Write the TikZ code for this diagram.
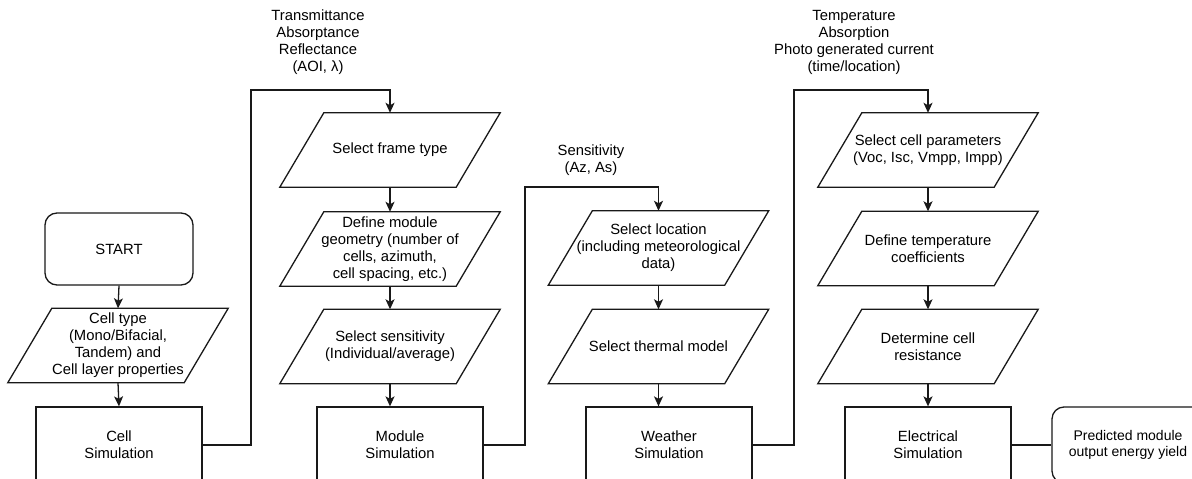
\documentclass[tikz,border=0pt]{standalone}
\usepackage{fontspec}
\setmainfont{Liberation Sans}
\usetikzlibrary{arrows.meta}
\begin{document}
\begin{tikzpicture}[x=1pt,y=-1pt,
  every node/.style={font=\fontsize{14.8}{17}\selectfont, align=center, inner sep=0pt},
  line/.style={line width=1.3pt, draw=black!90},
  arr/.style={line, -{Stealth[length=10pt,width=9pt,inset=2.5pt]}},
  para/.style={minimum width=176pt, minimum height=74pt},
  simbox/.style={draw=black!90, line width=1.3pt, minimum width=166pt, minimum height=76pt},
  term/.style={draw=black!90, line width=1.3pt, rounded corners=12pt}
]
\useasboundingbox (0,0) rectangle (1192,479);
\clip (0,0) rectangle (1192,479);

% column 1
\node[term, minimum width=148pt, minimum height=72pt] (start) at (119,249) {START};
\node[para] (p11) at (118,345.5) {Cell type\\(Mono/Bifacial,\\Tandem) and\\Cell layer properties};
\node[simbox] (cell) at (119,445) {Cell\\Simulation};

% column 2
\node[para] (p21) at (390,150) {Select frame type};
\node[para] (p22) at (390,249) {Define module\\geometry (number of\\cells, azimuth,\\cell spacing, etc.)};
\node[para] (p23) at (390,346.5) {Select sensitivity\\(Individual/average)};
\node[simbox] (mod) at (400,445) {Module\\Simulation};

% column 3
\node[para] (p31) at (658.5,248) {Select location\\(including meteorological\\data)};
\node[para] (p32) at (658.5,346.5) {Select thermal model};
\node[simbox] (wea) at (669,445) {Weather\\Simulation};

% column 4
\node[para] (p41) at (928,150) {Select cell parameters\\(Voc, Isc, Vmpp, Impp)};
\node[para] (p42) at (928,248.5) {Define temperature\\coefficients};
\node[para] (p43) at (928,346.5) {Determine cell\\resistance};
\node[simbox] (ele) at (928,445) {Electrical\\Simulation};
\node[term, minimum width=152pt, minimum height=76pt, font=\fontsize{14}{16.5}\selectfont] (pred) at (1128,445) {Predicted module\\output energy yield};

% labels
\node (lab1) at (318,42) {Transmittance\\Absorptance\\Reflectance\\(AOI, λ)};
\node (lab2) at (591,160) {Sensitivity\\(Az, As)};
\node (lab3) at (854,42) {Temperature\\Absorption\\Photo generated current\\(time/location)};

% parallelogram outlines
\foreach \n in {p11,p21,p22,p23,p31,p32,p41,p42,p43}{
  \draw[line] ([xshift=22pt]\n.north west) -- ([xshift=22pt]\n.north east)
    -- ([xshift=-22pt]\n.south east) -- ([xshift=-22pt]\n.south west) -- cycle;
}

% vertical arrows
\draw[arr] (start.south) -- (p11.north);
\draw[arr] (p11.south) -- (cell.north);
\draw[arr] (p21.south) -- (p22.north);
\draw[arr] (p22.south) -- (p23.north);
\draw[arr] (p23.south) -- (p23.south |- mod.north);
\draw[arr] (p31.south) -- (p32.north);
\draw[arr] (p32.south) -- (p32.south |- wea.north);
\draw[arr] (p41.south) -- (p42.north);
\draw[arr] (p42.south) -- (p43.north);
\draw[arr] (p43.south) -- (ele.north);

% connectors between columns
\coordinate (k1) at (251,90);
\coordinate (k2) at (525,187);
\coordinate (k3) at (794,90);
\draw[arr] (cell.east) -| (k1) -| (p21.north);
\draw[arr] (mod.east) -| (k2) -| (p31.north);
\draw[arr] (wea.east) -| (k3) -| (p41.north);
\draw[line] (ele.east) -- (pred.west);
\end{tikzpicture}
\end{document}
